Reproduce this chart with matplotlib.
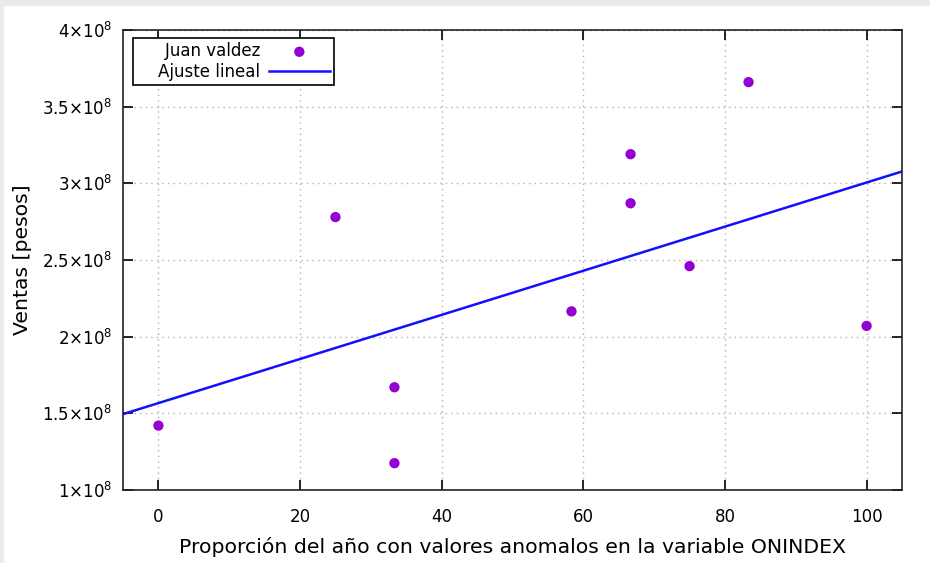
import numpy as np
import matplotlib.pyplot as plt
from matplotlib.ticker import FuncFormatter, MultipleLocator
from matplotlib.patches import Rectangle

plt.rcParams['font.family'] = ['DejaVu Sans']
plt.rcParams['mathtext.default'] = 'regular'

# proportion of the year with anomalous ONINDEX values vs. sales
proporcion = [0, 25, 33.33, 33.33, 58.33, 66.67, 66.67, 75, 83.33, 100]
ventas = [1.42e8, 2.78e8, 1.67e8, 1.175e8, 2.165e8, 3.19e8, 2.87e8, 2.46e8, 3.66e8, 2.07e8]

serie_label = 'Juan valdez'
ajuste_label = 'Ajuste lineal'
xlabel = 'Proporción del año con valores anomalos en la variable ONINDEX'
ylabel = 'Ventas [pesos]'

# least squares fit
m, b = np.polyfit(proporcion, ventas, 1)
xs = np.array([-5, 105])

fig = plt.figure(figsize=(9.3, 5.63), dpi=100)
fig.patch.set_facecolor('white')
# window frame strips
fig.add_artist(Rectangle((0, 1 - 5 / 563), 1, 5 / 563, transform=fig.transFigure,
                         color='#ebebeb', zorder=0))
fig.add_artist(Rectangle((0, 0), 3 / 930, 1, transform=fig.transFigure,
                         color='#ebebeb', zorder=0))

ax = fig.add_axes([123 / 930, 1 - 490 / 563, (902 - 123) / 930, 460 / 563])

ax.scatter(proporcion, ventas, s=55, color='#9400d3', edgecolors='none',
           label='    ' + serie_label, zorder=3)
ax.plot(xs, m * xs + b, color='#1010ff', lw=1.8, label='    ' + ajuste_label,
        zorder=2)

ax.set_xlim(-5, 105)
ax.set_ylim(1e8, 4e8)
ax.xaxis.set_major_locator(MultipleLocator(20))
ax.yaxis.set_major_locator(MultipleLocator(0.5e8))


def sci(v, pos):
    mant = v / 1e8
    return f'{mant:g}' + '×10$^{8}$'


ax.yaxis.set_major_formatter(FuncFormatter(sci))
ax.tick_params(direction='in', length=7, width=1.2, top=True, right=True,
               labelsize=12, colors='black')
ax.tick_params(axis='y', pad=7.5)
ax.tick_params(axis='x', pad=13)
for s in ax.spines.values():
    s.set_linewidth(1.2)
    s.set_color('#222222')

ax.grid(True, color='#b0b0b0', linestyle=(0, (1, 3)), linewidth=1)
ax.set_axisbelow(True)

ax.set_xlabel(xlabel, fontsize=14.7, labelpad=8)
ax.set_ylabel(ylabel, fontsize=14.7)
ax.yaxis.set_label_coords((32 - 123) / 779, 0.5)

leg = ax.legend(loc='upper left', bbox_to_anchor=(133 / 930, 1 - 38 / 563),
                bbox_transform=fig.transFigure, borderaxespad=0,
                markerfirst=False, fancybox=False, framealpha=1,
                edgecolor='black', fontsize=12, handlelength=3.7,
                borderpad=0.25, labelspacing=0.15, handletextpad=0.5)
leg.get_frame().set_linewidth(1.2)

fig.savefig('out.png', dpi=100)
